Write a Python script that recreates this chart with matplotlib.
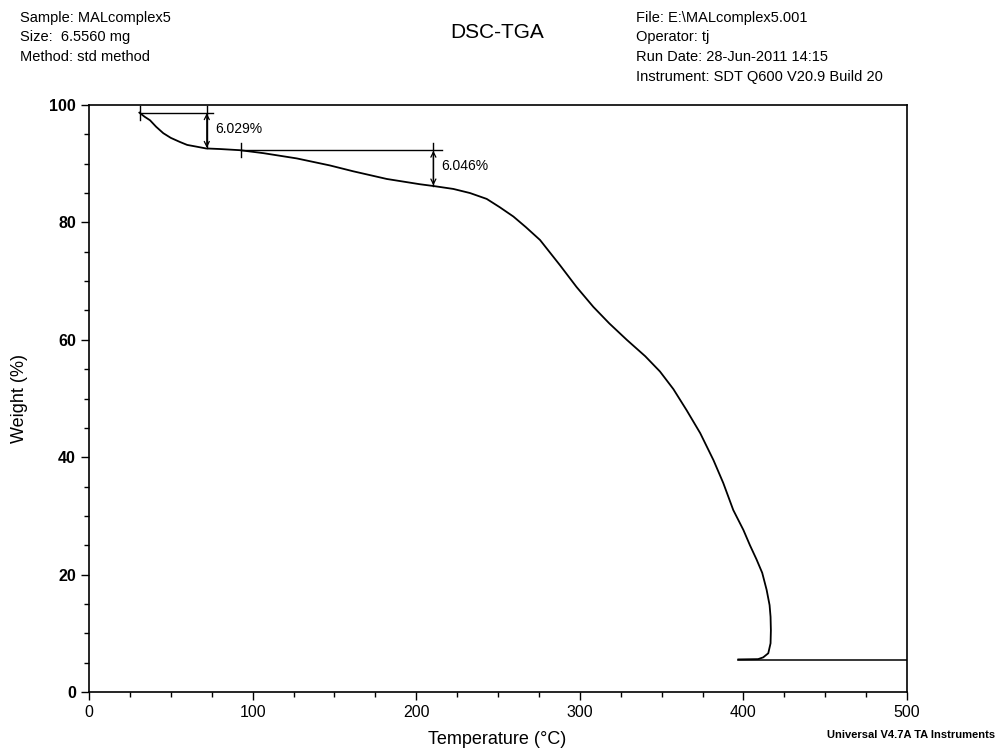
import matplotlib
matplotlib.use("Agg")
import matplotlib.pyplot as plt
from matplotlib.ticker import MultipleLocator

plt.rcParams['font.family'] = ['Liberation Sans', 'DejaVu Sans']

# TGA curve (temperature in °C, weight in %)
temp = [30.8, 34.0, 37.3, 41.0, 45.4, 50.0, 55.6, 60.0, 65.8, 71.5, 80.0, 92.3,
        106.5, 127.0, 147.3, 161.6, 182.0, 202.3, 210.5, 222.7, 232.9, 243.1,
        251.0, 259.4, 267.0, 275.7, 287.9, 298.0, 308.3, 318.0, 328.7, 340.0,
        349.0, 357.2, 365.3, 373.6, 381.7, 387.7, 393.8, 400.0, 404.0, 408.0,
        411.5, 414.2, 416.0, 416.6, 416.8, 416.6, 415.2, 412.1, 409.0, 396.9]
weight = [98.7, 98.0, 97.4, 96.3, 95.2, 94.4, 93.7, 93.2, 92.9, 92.6, 92.5, 92.3,
          91.8, 90.9, 89.7, 88.7, 87.4, 86.5, 86.2, 85.7, 85.0, 84.0,
          82.6, 81.0, 79.2, 77.0, 72.7, 69.0, 65.6, 62.8, 60.0, 57.2,
          54.6, 51.6, 48.0, 44.1, 39.5, 35.6, 31.0, 27.6, 25.0, 22.6,
          20.3, 17.4, 14.8, 12.8, 10.5, 8.3, 6.6, 5.9, 5.6, 5.55]
# trailing baseline
base_temp = [396.9, 500.0]
base_weight = [5.5, 5.5]

# step annotations
step_T0 = [31.2, 92.9]
step_T1 = [76.0, 215.8]
step_Tarrow = [72.0, 210.5]
step_upper = [98.7, 92.3]
step_lower = [92.6, 86.2]
step_labels = ["6.029%", "6.046%"]

fig = plt.figure(figsize=(9.97, 7.49), dpi=100)
ax = fig.add_axes([89/997, 1-692/749, (907-89)/997, (692-105)/749])

ax.plot(temp, weight, color='black', lw=1.3, solid_joinstyle='round')
ax.plot(base_temp, base_weight, color='black', lw=1.1)

for t0, t1, ta, up, lo, lab in zip(step_T0, step_T1, step_Tarrow, step_upper, step_lower, step_labels):
    ax.plot([t0, t1], [up, up], color='black', lw=1.0)
    ax.plot([t0, t0], [up - 1.2, up + 1.2], color='black', lw=1.0)
    ax.plot([ta, ta], [up + 1.2, lo], color='black', lw=1.0)
    ax.annotate('', xy=(ta, lo + 0.1), xytext=(ta, up - 0.1),
                arrowprops=dict(arrowstyle='<->', color='black', lw=0.9,
                                mutation_scale=9, shrinkA=0, shrinkB=0))
    ax.text(ta + 5, (up + lo) / 2 + 0.3, lab, fontsize=10, va='center', ha='left')

ax.set_xlim(0, 500)
ax.set_ylim(0, 100)
ax.xaxis.set_major_locator(MultipleLocator(100))
ax.xaxis.set_minor_locator(MultipleLocator(25))
ax.yaxis.set_major_locator(MultipleLocator(20))
ax.yaxis.set_minor_locator(MultipleLocator(5))
ax.tick_params(axis='both', which='major', direction='out', length=6, width=1, labelsize=11.5)
ax.tick_params(axis='both', which='minor', direction='out', length=3.5, width=1)
ax.tick_params(top=False, right=False)
for lab in ax.get_yticklabels():
    lab.set_fontweight('bold')
for s in ax.spines.values():
    s.set_linewidth(1.2)

# axis labels placed in figure coordinates
fig.text(497/997, 1 - 739/749, 'Temperature (°C)', fontsize=13, ha='center', va='center')
fig.text(20/997, 1 - 398/749, 'Weight (%)', fontsize=13, ha='center', va='center', rotation=90)

# header
left_lines = ["Sample: MALcomplex5", "Size:  6.5560 mg", "Method: std method"]
right_lines = ["File: E:\\MALcomplex5.001", "Operator: tj", "Run Date: 28-Jun-2011 14:15",
               "Instrument: SDT Q600 V20.9 Build 20"]
for i, s in enumerate(left_lines):
    fig.text(20/997, 1 - (18 + 19.5*i)/749, s, fontsize=10.5, ha='left', va='center')
for i, s in enumerate(right_lines):
    fig.text(636/997, 1 - (18 + 19.5*i)/749, s, fontsize=10.5, ha='left', va='center')
fig.text(497/997, 1 - 32/749, 'DSC-TGA', fontsize=15, ha='center', va='center')
fig.text(995/997, 1 - 735/749, 'Universal V4.7A TA Instruments', fontsize=8,
         fontweight='bold', ha='right', va='center')

fig.savefig('out.png', dpi=100)
